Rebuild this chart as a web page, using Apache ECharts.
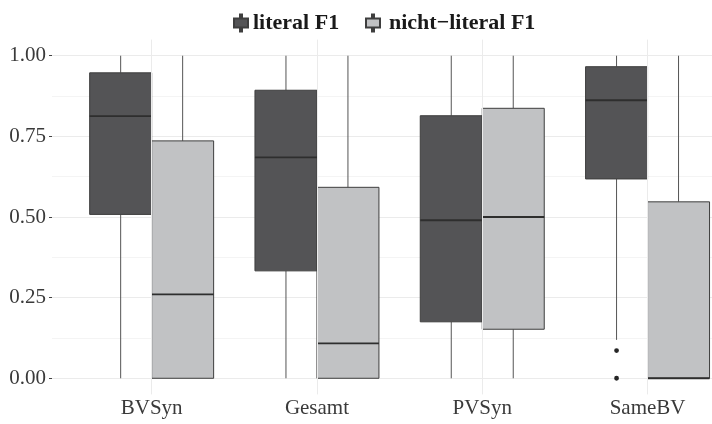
<!DOCTYPE html>
<html><head><meta charset="utf-8">
<script src="https://cdn.jsdelivr.net/npm/echarts@6/dist/echarts.min.js"></script>
<style>html,body{margin:0;padding:0;background:#fff;overflow:hidden}#c{width:760px;height:424px}</style>
</head><body><div id="c"></div>
<script>
const categories = ['BVSyn', 'Gesamt', 'PVSyn', 'SameBV'];
const seriesNames = ['literal F1', 'nicht\u2212literal F1'];
const yTicks = [0, 0.25, 0.5, 0.75, 1];
// [min, Q1, median, Q3, max]
const literalBox = [
  [0, 0.508, 0.813, 0.947, 1],
  [0, 0.333, 0.685, 0.893, 1],
  [0, 0.175, 0.490, 0.814, 1],
  [0.119, 0.618, 0.862, 0.966, 1]
];
const nonLiteralBox = [
  [0, 0, 0.260, 0.736, 1],
  [0, 0, 0.108, 0.592, 1],
  [0, 0.152, 0.500, 0.837, 1],
  [0, 0, 0, 0.547, 1]
];
const literalOutliers = [[3, 0.086], [3, 0]];

const FONT = 'Liberation Serif';
const darkFill = '#545456', lightFill = '#c1c2c4', edge = '#3e3e3e', whisker = '#555555';

function boxRender(side, fill) {
  return function (params, api) {
    const i = api.value(0);
    const band = api.size([1, 0])[0];
    const cx = api.coord([i, 0])[0] + side * band * 0.1875;
    const w = band * 0.375;
    const y = k => api.coord([i, api.value(k)])[1];
    const yMin = y(1), yQ1 = y(2), yMed = y(3), yQ3 = y(4), yMax = y(5);
    const ls = { stroke: whisker, lineWidth: 1 };
    return {
      type: 'group',
      children: [
        { type: 'line', shape: { x1: cx, y1: yQ3, x2: cx, y2: yMax }, style: ls },
        { type: 'line', shape: { x1: cx, y1: yQ1, x2: cx, y2: yMin }, style: ls },
        { type: 'rect', shape: { x: cx - w / 2, y: yQ3, width: w, height: yQ1 - yQ3 },
          style: { fill: fill, stroke: edge, lineWidth: 1 } },
        { type: 'line', shape: { x1: cx - w / 2, y1: yMed, x2: cx + w / 2, y2: yMed },
          style: { stroke: '#2e2e2e', lineWidth: 1.8 } }
      ]
    };
  };
}
function outlierRender(side) {
  return function (params, api) {
    const i = api.value(0);
    const band = api.size([1, 0])[0];
    const cx = api.coord([i, 0])[0] + side * band * 0.1875;
    const cy = api.coord([i, api.value(1)])[1];
    return { type: 'circle', shape: { cx: cx, cy: cy, r: 2.4 }, style: { fill: '#262626' } };
  };
}

const chart = echarts.init(document.getElementById('c'), null, { renderer: 'canvas' });
const legendIcon = 'path://M6,0H8V4H14V13H8V17H6V13H0V4H6Z';
chart.setOption({
  animation: false,
  backgroundColor: '#fff',
  legend: [
    { data: [seriesNames[0]], left: 228, top: 7, itemWidth: 14, itemHeight: 17, icon: legendIcon,
      selectedMode: false, textStyle: { fontFamily: FONT, fontWeight: 'bold', fontSize: 22, color: '#1a1a1a' } },
    { data: [seriesNames[1]], left: 360, top: 7, itemWidth: 14, itemHeight: 17, icon: legendIcon,
      selectedMode: false, textStyle: { fontFamily: FONT, fontWeight: 'bold', fontSize: 22, color: '#1a1a1a', padding: [0, 0, 0, 4] } }
  ],
  grid: [
    { left: 52, right: 0, top: 55.7, bottom: 45.7 },
    { left: 69, width: 661.2, top: 39.6, bottom: 29.6 }
  ],
  xAxis: [
    { gridIndex: 0, type: 'value', show: false, min: 0, max: 1 },
    { gridIndex: 1, type: 'category', data: categories, boundaryGap: true,
      axisLine: { show: false },
      axisTick: { show: true, alignWithLabel: true, length: 3, lineStyle: { color: '#444' } },
      axisLabel: { fontFamily: FONT, fontSize: 21, color: '#3a3a3a', margin: 4 },
      splitLine: { show: false } }
  ],
  yAxis: [
    { gridIndex: 0, type: 'value', min: yTicks[0], max: yTicks[yTicks.length - 1], interval: 0.25,
      axisLine: { show: false },
      axisTick: { show: true, length: 3, lineStyle: { color: '#444' } },
      axisLabel: { fontFamily: FONT, fontSize: 21, color: '#3a3a3a', margin: 6, formatter: v => v.toFixed(2) },
      splitLine: { show: true, lineStyle: { color: '#ebebeb', width: 1 } },
      minorTick: { show: false, splitNumber: 2 },
      minorSplitLine: { show: true, lineStyle: { color: '#f4f4f4', width: 1 } } },
    { gridIndex: 1, type: 'value', min: -0.05, max: 1.05, show: false }
  ],
  series: [
    { type: 'line', xAxisIndex: 1, yAxisIndex: 1, data: [], z: 0, silent: true,
      markLine: { silent: true, symbol: 'none', label: { show: false }, animation: false,
        lineStyle: { color: '#ebebeb', type: 'solid', width: 1 },
        data: categories.map(c => ({ xAxis: c })) } },
    { type: 'custom', name: seriesNames[0], xAxisIndex: 1, yAxisIndex: 1, z: 3,
      itemStyle: { color: darkFill, borderColor: edge, borderWidth: 1 },
      renderItem: boxRender(-1, darkFill),
      encode: { x: 0, y: [1, 2, 3, 4, 5] },
      data: literalBox.map((b, i) => [i].concat(b)) },
    { type: 'custom', name: seriesNames[1], xAxisIndex: 1, yAxisIndex: 1, z: 3,
      itemStyle: { color: lightFill, borderColor: edge, borderWidth: 1 },
      renderItem: boxRender(1, lightFill),
      encode: { x: 0, y: [1, 2, 3, 4, 5] },
      data: nonLiteralBox.map((b, i) => [i].concat(b)) },
    { type: 'custom', xAxisIndex: 1, yAxisIndex: 1, z: 4,
      renderItem: outlierRender(-1),
      encode: { x: 0, y: 1 },
      data: literalOutliers }
  ]
});
</script></body></html>
